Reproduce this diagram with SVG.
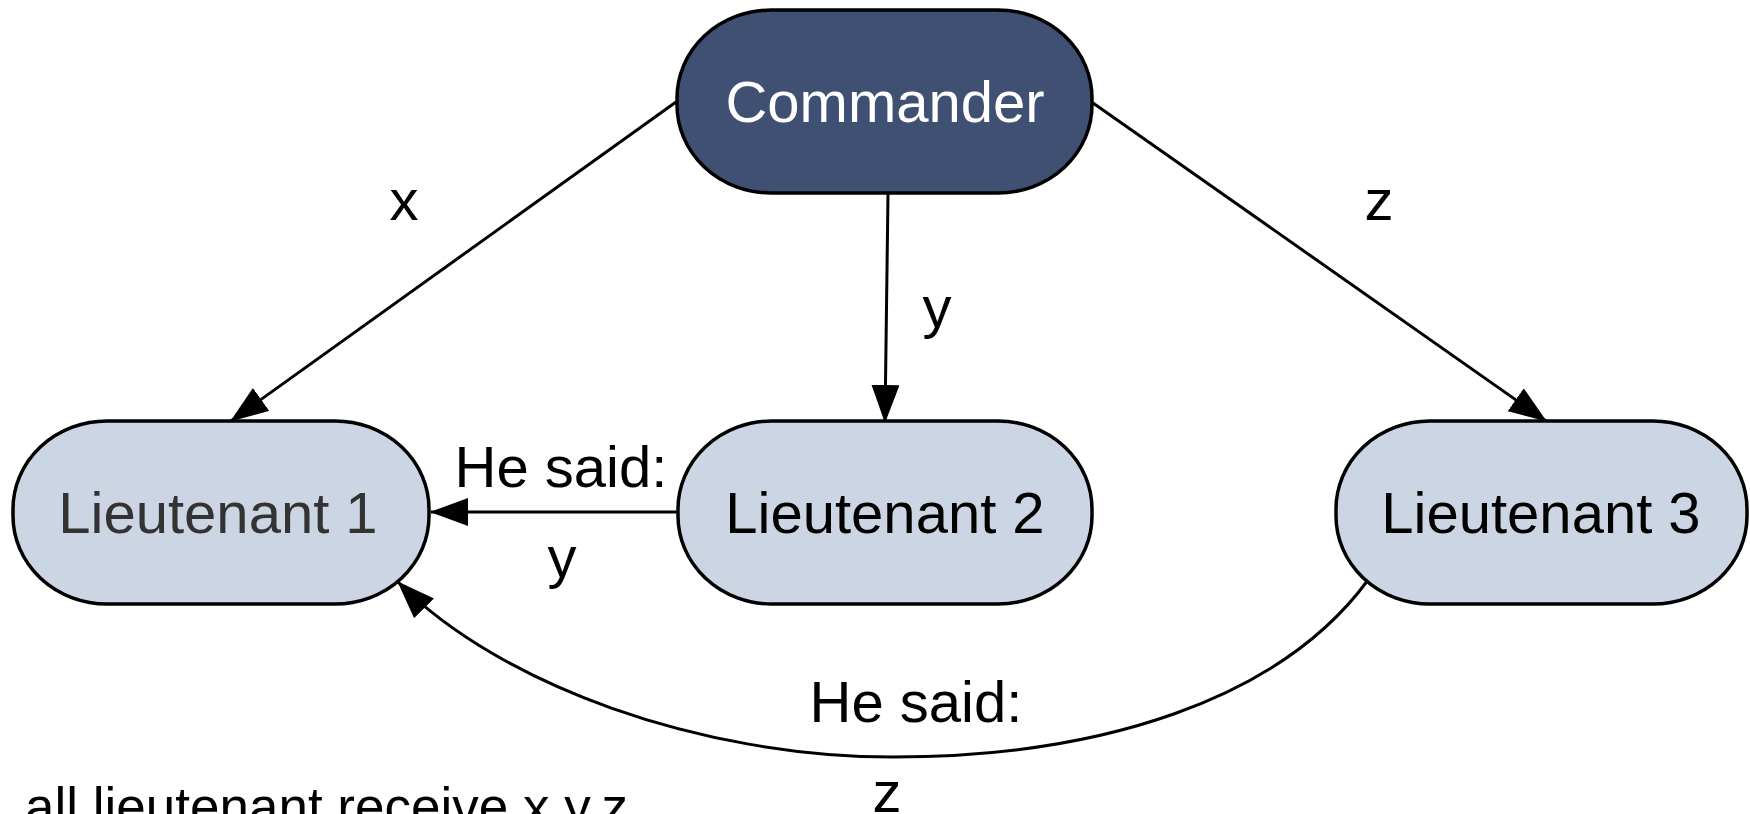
<svg xmlns="http://www.w3.org/2000/svg" width="1750" height="814" viewBox="0 0 1750 814">
<style>
.node{stroke:#000;stroke-width:3.5}
.cmd{fill:#3f5072}
.lt{fill:#ccd5e3}
.t{font-family:"Liberation Sans",Arial,sans-serif;font-size:58px;text-anchor:middle}
.e{fill:none;stroke:#000;stroke-width:3}
</style>
<defs>
<marker id="ah" viewBox="0 0 38 28" refX="37" refY="14" markerWidth="38" markerHeight="28" markerUnits="userSpaceOnUse" orient="auto">
<path d="M0,0 L38,14 L0,28 z" fill="#000"/>
</marker>
</defs>
<rect width="1750" height="814" fill="#fff"/>
<g id="connectors">
<line class="e" x1="676" y1="102" x2="231" y2="421" marker-end="url(#ah)"/>
<line class="e" x1="888" y1="194" x2="885" y2="422" marker-end="url(#ah)"/>
<line class="e" x1="1093" y1="103" x2="1546" y2="421" marker-end="url(#ah)"/>
<line class="e" x1="677" y1="512" x2="431" y2="512" marker-end="url(#ah)"/>
<path class="e" d="M1368,580 C1280,700 1100,757 893,757 C700,757 500,685 398,582" marker-end="url(#ah)"/>
<text class="t" x="404" y="220">x</text>
<text class="t" x="937" y="327">y</text>
<text class="t" x="1379" y="220">z</text>
<text class="t" x="561" y="487">He said:</text>
<text class="t" x="562" y="577">y</text>
<text class="t" x="916" y="722">He said:</text>
<text class="t" x="887" y="812">z</text>
</g>
<g id="commander">
<rect class="node cmd" x="677" y="10" width="415" height="183" rx="94" ry="88"/>
<text class="t" x="885" y="122" fill="#fff">Commander</text>
</g>
<g id="lieutenant1">
<rect class="node lt" x="13" y="421" width="416" height="183" rx="94" ry="88"/>
<text class="t" x="218" y="533" fill="#333">Lieutenant 1</text>
</g>
<g id="lieutenant2">
<rect class="node lt" x="678" y="421" width="414" height="183" rx="94" ry="88"/>
<text class="t" x="885" y="533" fill="#000">Lieutenant 2</text>
</g>
<g id="lieutenant3">
<rect class="node lt" x="1336" y="421" width="411" height="183" rx="94" ry="88"/>
<text class="t" x="1541" y="533" fill="#000">Lieutenant 3</text>
</g>
<text x="25" y="825" font-family="'Liberation Sans',Arial,sans-serif" font-size="53" fill="#000">all lieutenant receive x,y,z</text>
</svg>
